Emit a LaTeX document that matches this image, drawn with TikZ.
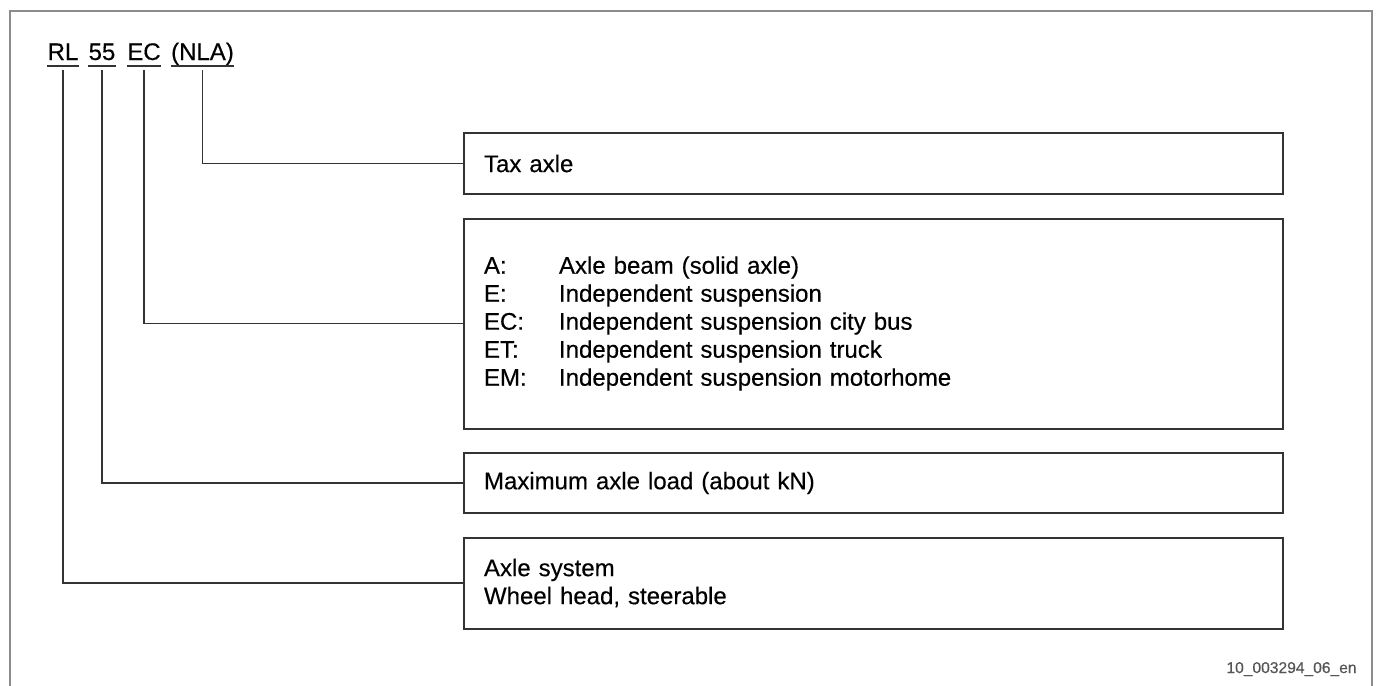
\documentclass[tikz,border=0pt]{standalone}
\usepackage{fontspec}
\setmainfont{Liberation Sans}[FakeBold=0.35]
\usetikzlibrary{positioning}
\definecolor{framegray}{HTML}{8C8C8C}
\definecolor{linegray}{HTML}{333333}
\definecolor{notegray}{HTML}{555555}
\newcommand{\keyitem}[2]{\makebox[37.5pt][l]{#1}#2}
\begin{document}
\begin{tikzpicture}[x=0.5pt, y=-0.5pt,
    font=\fontsize{12}{14}\selectfont,
    node distance=11.25pt,
    infobox/.style={draw=linegray, line width=1pt, minimum width=409.5pt,
        text width=389.5pt, inner xsep=10pt, align=left},
    code/.style={inner sep=0pt, anchor=base},
    uline/.style={linegray, line width=1.1pt},
    conn/.style={linegray, line width=0.75pt}]
        \useasboundingbox (0,0) rectangle (1378,686);
        % Outer frame, open at the bottom
        \draw[framegray, line width=0.75pt] (10,686) -- (10,11) -- (1372,11) -- (1372,686);

        % Type code
        \node[code] (rl) at (63,60) {RL};
        \node[code] (kn) at (102,60) {55};
        \node[code] (type) at (144,60) {EC};
        \node[code] (nla) at (202.5,60) {(NLA)};
        \foreach \n in {rl,kn,type,nla}
            \draw[uline] ([yshift=-3pt]\n.base west) -- ([yshift=-3pt]\n.base east);

        % Explanation boxes
        \node[infobox, minimum height=30.5pt, anchor=north west] (tax) at (463,132) {Tax axle};
        \node[infobox, minimum height=105pt, below=of tax] (design) {%
            \keyitem{A:}{Axle beam (solid axle)}\\
            \keyitem{E:}{Independent suspension}\\
            \keyitem{EC:}{Independent suspension city bus}\\
            \keyitem{ET:}{Independent suspension truck}\\
            \keyitem{EM:}{Independent suspension motorhome}};
        \node[infobox, minimum height=30pt, below=of design] (load) {Maximum axle load (about kN)};
        \node[infobox, minimum height=45.5pt, below=of load] (system) {Axle system\\Wheel head, steerable};

        % Connectors
        \draw[conn] ([yshift=-5pt]nla.base) |- (tax.west);
        \draw[conn] ([yshift=-5pt]type.base) |- (design.west);
        \draw[conn] ([yshift=-5pt]kn.base) |- (load.west);
        \draw[conn] ([yshift=-5pt]rl.base) |- (system.west);

        % Drawing number
        \node[font=\fontsize{7.8}{9}\selectfont, text=notegray, anchor=base east, inner sep=0pt] (docid) at (1357,673) {10\_003294\_06\_en};
    \end{tikzpicture}
\end{document}
